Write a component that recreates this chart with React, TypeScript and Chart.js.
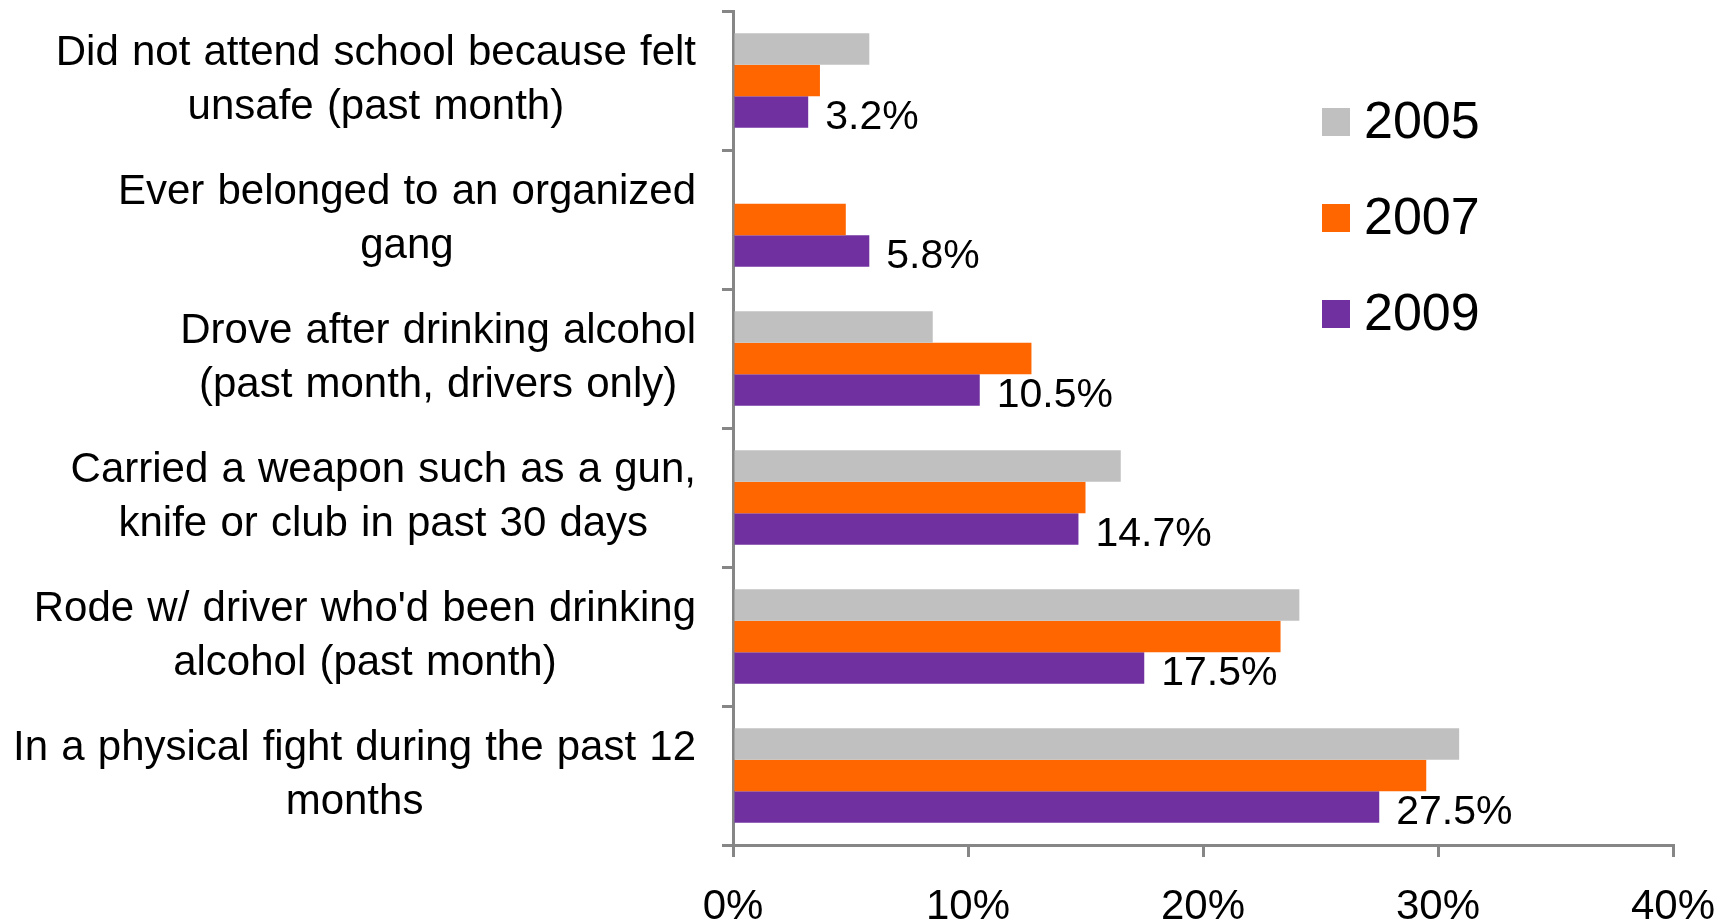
import React, { useEffect, useRef } from "react";
import { Chart, registerables } from "chart.js";

Chart.register(...registerables);

const categories: string[][] = [
  ["Did not attend school because felt", "unsafe (past month)"],
  ["Ever belonged to an organized", "gang"],
  ["Drove after drinking alcohol", "(past month, drivers only)"],
  ["Carried a weapon such as a gun,", "knife or club in past 30 days"],
  ["Rode w/ driver who'd been drinking", "alcohol (past month)"],
  ["In a physical fight during the past 12", "months"],
];
const seriesNames = ["2005", "2007", "2009"];
const values2005: (number | null)[] = [5.8, null, 8.5, 16.5, 24.1, 30.9];
const values2007: (number | null)[] = [3.7, 4.8, 12.7, 15.0, 23.3, 29.5];
const values2009: (number | null)[] = [3.2, 5.8, 10.5, 14.7, 17.5, 27.5];
const seriesColors = ["#C0C0C0", "#FF6600", "#7030A0"];
const xMin = 0;
const xMax = 40;
const xStep = 10;

const FONT = '"Liberation Sans", Arial, Helvetica, sans-serif';

const yLabelPlugin = {
  id: "yLabelsCustom",
  afterDraw(chart: any) {
    const { ctx } = chart;
    const y = chart.scales.y;
    ctx.save();
    ctx.font = `42px ${FONT}`;
    try {
      (ctx as any).wordSpacing = "1.5px";
    } catch (e) {}
    ctx.fillStyle = "#000000";
    ctx.textBaseline = "middle";
    ctx.textAlign = "center";
    const right = chart.chartArea.left - 37;
    const lh = 54;
    categories.forEach((lines, i) => {
      const cy = y.getPixelForTick(i);
      const w = Math.max(...lines.map((l) => ctx.measureText(l).width));
      const cx = right - w / 2;
      lines.forEach((l, j) => {
        ctx.fillText(l, cx, cy + (j - (lines.length - 1) / 2) * lh);
      });
    });
    ctx.restore();
  },
};

const dataLabelPlugin = {
  id: "dataLabelsCustom",
  afterDatasetsDraw(chart: any) {
    const { ctx } = chart;
    const idx = 2;
    const meta = chart.getDatasetMeta(idx);
    const ds = chart.data.datasets[idx];
    ctx.save();
    ctx.font = `41px ${FONT}`;
    ctx.fillStyle = "#000000";
    ctx.textBaseline = "middle";
    ctx.textAlign = "left";
    meta.data.forEach((bar: any, i: number) => {
      const v = ds.data[i];
      if (v == null) return;
      ctx.fillText(`${v.toFixed(1)}%`, bar.x + 17, bar.y + 6);
    });
    ctx.restore();
  },
};

const legendPlugin = {
  id: "legendCustom",
  afterDraw(chart: any) {
    const { ctx } = chart;
    ctx.save();
    ctx.font = `52px ${FONT}`;
    ctx.textBaseline = "middle";
    ctx.textAlign = "left";
    const boxX = 1322;
    const box = 28;
    const startY = 122;
    const gap = 96;
    chart.data.datasets.forEach((ds: any, i: number) => {
      const cy = startY + i * gap;
      ctx.fillStyle = ds.backgroundColor;
      ctx.fillRect(boxX, cy - box / 2, box, box);
      ctx.fillStyle = "#000000";
      ctx.fillText(ds.label, boxX + 42, cy + 2);
    });
    ctx.restore();
  },
};

export default function App() {
  const canvasRef = useRef<HTMLCanvasElement>(null);

  useEffect(() => {
    if (!canvasRef.current) return;
    const chart = new Chart(canvasRef.current, {
      type: "bar",
      data: {
        labels: categories.map((c) => c.join(" ")),
        datasets: [values2005, values2007, values2009].map((vals, i) => ({
          label: seriesNames[i],
          data: vals,
          backgroundColor: seriesColors[i],
          borderWidth: 0,
          categoryPercentage: 0.68,
          barPercentage: 1.0,
        })),
      },
      options: {
        indexAxis: "y",
        responsive: false,
        maintainAspectRatio: false,
        animation: false,
        layout: { padding: { top: 11, right: 55, left: 0, bottom: 0 } },
        plugins: {
          legend: { display: false },
          tooltip: { enabled: false },
        },
        scales: {
          x: {
            min: xMin,
            max: xMax,
            ticks: {
              stepSize: xStep,
              color: "#000000",
              font: { family: FONT, size: 42 },
              padding: 25,
              maxRotation: 0,
              callback: (v: any) => `${v}%`,
            },
            grid: {
              display: true,
              drawOnChartArea: false,
              drawTicks: true,
              tickLength: 12,
              color: "#868686",
              lineWidth: 3,
            },
            border: { display: true, color: "#868686", width: 3 },
            afterFit: (s: any) => {
              s.height = 77;
              s.paddingLeft = 0;
              s.paddingRight = 0;
            },
          },
          y: {
            ticks: { display: false },
            grid: {
              display: true,
              offset: true,
              drawOnChartArea: false,
              drawTicks: true,
              tickLength: 11,
              color: "#868686",
              lineWidth: 3,
            },
            border: { display: true, color: "#868686", width: 3 },
            afterFit: (s: any) => {
              s.width = 733;
              s.paddingTop = 0;
              s.paddingBottom = 0;
            },
          },
        },
      },
      plugins: [yLabelPlugin, dataLabelPlugin, legendPlugin],
    } as any);
    return () => chart.destroy();
  }, []);

  return (
    <div style={{ position: "fixed", left: 0, top: 0, width: 1728, height: 922, background: "#ffffff" }}>
      <canvas ref={canvasRef} width={1728} height={922} style={{ display: "block" }} />
    </div>
  );
}
